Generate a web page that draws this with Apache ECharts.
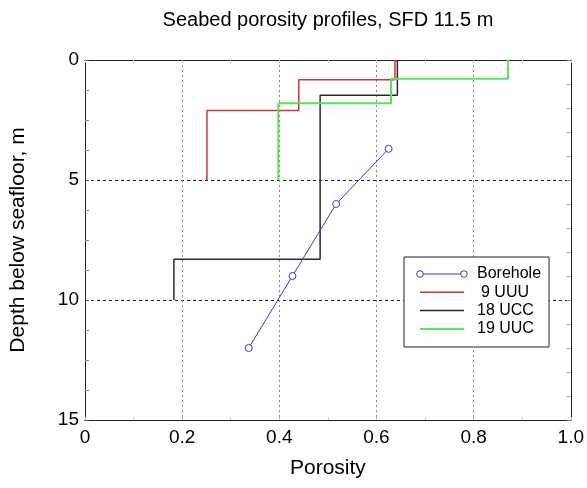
<!DOCTYPE html>
<html>
<head>
<meta charset="utf-8">
<script src="https://cdn.jsdelivr.net/npm/echarts@6/dist/echarts.min.js"></script>
<style>
html,body{margin:0;padding:0;background:#fff;}
#chart{width:587px;height:488px;}
</style>
</head>
<body>
<div id="chart"></div>
<script>
// ---- data ----
var titleText = 'Seabed porosity profiles, SFD 11.5 m';
var xName = 'Porosity';
var yName = 'Depth below seafloor, m';
var xTickLabels = ['0', '0.2', '0.4', '0.6', '0.8', '1.0'];
var yTickLabels = ['0', '5', '10', '15'];
var seriesNames = ['Borehole', '9 UUU', '18 UCC', '19 UUC'];

// Borehole samples
var boreholePorosity = [0.625, 0.517, 0.427, 0.337];
var boreholeDepth = [3.7, 6.0, 9.0, 12.0];

// Layered profiles: layer tops, bottoms and porosity
var uuu9Top = [0, 0.82, 2.1];
var uuu9Bottom = [0.82, 2.1, 5.0];
var uuu9Porosity = [0.638, 0.440, 0.251];

var ucc18Top = [0, 1.47, 8.3];
var ucc18Bottom = [1.47, 8.3, 10.0];
var ucc18Porosity = [0.643, 0.484, 0.183];

var uuc19Top = [0, 0.78, 1.8];
var uuc19Bottom = [0.78, 1.8, 5.0];
var uuc19Porosity = [0.871, 0.630, 0.398];

var colors = ['#3a3ac0', '#cc3535', '#2a2a2a', '#5ee05e'];

// ---- build ----
function pairs(xs, ys) {
  return xs.map(function (x, i) { return [x, ys[i]]; });
}
function steps(tops, bottoms, por) {
  var pts = [];
  for (var i = 0; i < tops.length; i++) {
    pts.push([por[i], tops[i]]);
    pts.push([por[i], bottoms[i]]);
  }
  return pts;
}

var font = 'Liberation Sans, Arial, sans-serif';
var chart = echarts.init(document.getElementById('chart'), null, {renderer: 'canvas'});

var gridL = 84, gridT = 60, gridR = 14, gridB = 68;

var legX = 404, legY = 257, legW = 145, legH = 90, rowGap = 18.3;
var legendGraphics = [{
  type: 'rect', shape: {x: legX, y: legY, width: legW, height: legH},
  style: {fill: '#fff', stroke: '#222', lineWidth: 1}, z: 100
}];
seriesNames.forEach(function (n, i) {
  var yy = legY + 17 + i * rowGap;
  legendGraphics.push({
    type: 'line', shape: {x1: legX + 16, y1: yy, x2: legX + 60, y2: yy},
    style: {stroke: colors[i], lineWidth: i === 0 ? 1 : (i === 3 ? 2 : 1.5)}, z: 101
  });
  if (i === 0) {
    [legX + 16, legX + 60].forEach(function (cx) {
      legendGraphics.push({
        type: 'circle', shape: {cx: cx, cy: yy, r: 3.3},
        style: {fill: '#fff', stroke: colors[0], lineWidth: 1}, z: 102
      });
    });
  }
  legendGraphics.push({
    type: 'text', x: legX + 73 + (i === 1 ? 4 : 0), y: yy,
    style: {text: n, font: '16px ' + font, fill: '#000', textVerticalAlign: 'middle', verticalAlign: 'middle'},
    z: 101
  });
});

var option = {
  animation: false,
  backgroundColor: '#fff',
  title: {
    text: titleText, left: 328, top: 10, padding: 0, textAlign: 'center',
    textStyle: {fontFamily: font, fontSize: 20, fontWeight: 'normal', color: '#000'}
  },
  grid: {left: gridL, top: gridT, right: gridR, bottom: gridB, containLabel: false},
  xAxis: [{
    type: 'value', min: 0, max: 1, interval: 0.2, position: 'bottom',
    name: xName, nameLocation: 'middle', nameGap: 38,
    nameTextStyle: {fontFamily: font, fontSize: 21, color: '#000'},
    axisLine: {show: true, onZero: false, lineStyle: {color: '#222', width: 1}},
    axisTick: {show: true, inside: true, length: 3, lineStyle: {color: '#bbb'}},
    minorTick: {show: true, splitNumber: 2, length: 3, lineStyle: {color: '#ccc'}},
    axisLabel: {
      fontFamily: font, fontSize: 19, color: '#000', margin: 8,
      formatter: function (v) { return xTickLabels[Math.round(v / 0.2)]; }
    },
    splitLine: {show: true, showMinLine: false, showMaxLine: false,
      lineStyle: {color: '#888', type: [2, 3], width: 1}}
  }, {
    type: 'value', min: 0, max: 1, interval: 0.2, position: 'top',
    axisLine: {show: true, onZero: false, lineStyle: {color: '#222', width: 1}},
    axisTick: {show: true, inside: true, length: 3, lineStyle: {color: '#bbb'}},
    minorTick: {show: true, splitNumber: 2, length: 3, lineStyle: {color: '#ccc'}},
    axisLabel: {show: false}, splitLine: {show: false}
  }],
  yAxis: [{
    type: 'value', min: 0, max: 15, interval: 5, inverse: true, position: 'left',
    name: yName, nameLocation: 'middle', nameGap: 56, nameRotate: 90,
    nameTextStyle: {fontFamily: font, fontSize: 21, color: '#000'},
    axisLine: {show: true, onZero: false, lineStyle: {color: '#222', width: 1}},
    axisTick: {show: true, inside: true, length: 4, lineStyle: {color: '#555'}},
    minorTick: {show: true, splitNumber: 4, length: 4, lineStyle: {color: '#888'}},
    axisLabel: {
      fontFamily: font, fontSize: 19, color: '#000', margin: 6,
      formatter: function (v) { return yTickLabels[Math.round(v / 5)]; }
    },
    splitLine: {show: true, showMinLine: false, showMaxLine: false,
      lineStyle: {color: '#222', type: [3, 3], width: 1}}
  }, {
    type: 'value', min: 0, max: 15, interval: 5, inverse: true, position: 'right',
    axisLine: {show: true, onZero: false, lineStyle: {color: '#222', width: 1}},
    axisTick: {show: true, inside: true, length: 4, lineStyle: {color: '#888'}},
    minorTick: {show: true, splitNumber: 5, length: 4, lineStyle: {color: '#aaa'}},
    axisLabel: {show: false}, splitLine: {show: false}
  }],
  series: [{
    name: seriesNames[1], type: 'line', data: steps(uuu9Top, uuu9Bottom, uuu9Porosity),
    showSymbol: false, symbol: 'none', lineStyle: {color: colors[1], width: 1.5}, z: 2
  }, {
    name: seriesNames[2], type: 'line', data: steps(ucc18Top, ucc18Bottom, ucc18Porosity),
    showSymbol: false, symbol: 'none', lineStyle: {color: colors[2], width: 1.5}, z: 2
  }, {
    name: seriesNames[3], type: 'line', data: steps(uuc19Top, uuc19Bottom, uuc19Porosity),
    showSymbol: false, symbol: 'none', lineStyle: {color: colors[3], width: 2}, z: 2
  }, {
    name: seriesNames[0], type: 'line', data: pairs(boreholePorosity, boreholeDepth),
    symbol: 'circle', symbolSize: 7, showSymbol: true,
    itemStyle: {color: '#fff', borderColor: colors[0], borderWidth: 1},
    lineStyle: {color: colors[0], width: 1}, z: 3
  }],
  graphic: legendGraphics
};
chart.setOption(option);
</script>
</body>
</html>
